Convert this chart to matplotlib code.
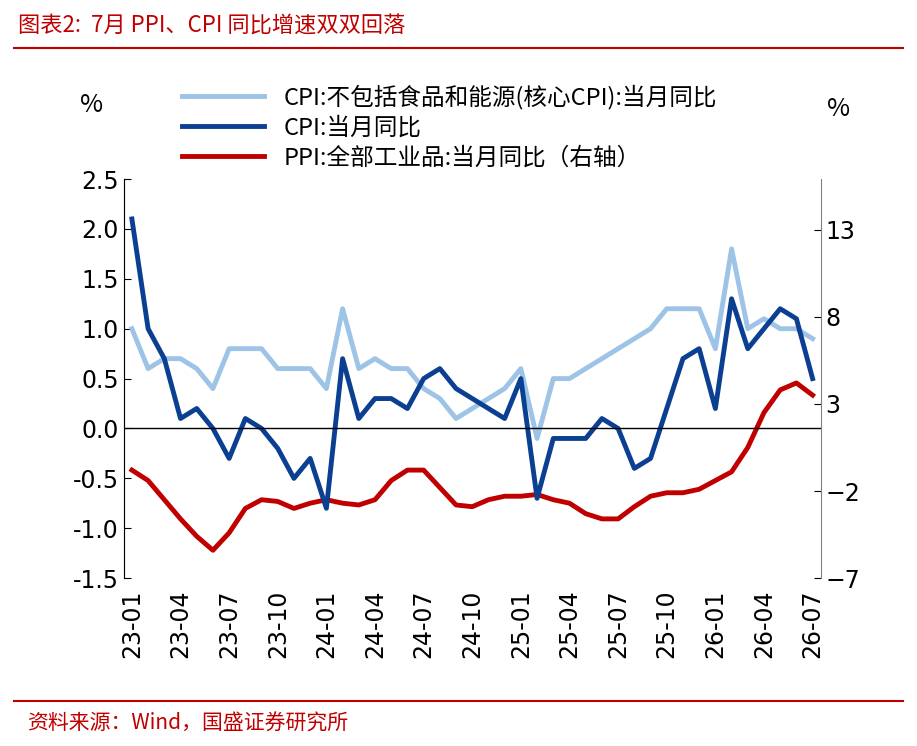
import matplotlib
matplotlib.use("Agg")
import matplotlib.pyplot as plt
import numpy as np

plt.rcParams['font.family'] = ['Noto Sans CJK SC', 'DejaVu Sans']

months = [f"{y}-{m:02d}" for y in (23, 24, 25, 26) for m in range(1, 13)][:43]
tick_labels = months[::3]
core_cpi = [1.0, 0.6, 0.7, 0.7, 0.6, 0.4, 0.8, 0.8, 0.8, 0.6, 0.6, 0.6,
            0.4, 1.2, 0.6, 0.7, 0.6, 0.6, 0.4, 0.3, 0.1, 0.2, 0.3, 0.4,
            0.6, -0.1, 0.5, 0.5, 0.6, 0.7, 0.8, 0.9, 1.0, 1.2, 1.2, 1.2,
            0.8, 1.8, 1.0, 1.1, 1.0, 1.0, 0.9]
cpi = [2.1, 1.0, 0.7, 0.1, 0.2, 0.0, -0.3, 0.1, 0.0, -0.2, -0.5, -0.3,
       -0.8, 0.7, 0.1, 0.3, 0.3, 0.2, 0.5, 0.6, 0.4, 0.3, 0.2, 0.1,
       0.5, -0.7, -0.1, -0.1, -0.1, 0.1, 0.0, -0.4, -0.3, 0.2, 0.7, 0.8,
       0.2, 1.3, 0.8, 1.0, 1.2, 1.1, 0.5]
ppi = [-0.8, -1.4, -2.5, -3.6, -4.6, -5.4, -4.4, -3.0, -2.5, -2.6, -3.0, -2.7,
       -2.5, -2.7, -2.8, -2.5, -1.4, -0.8, -0.8, -1.8, -2.8, -2.9, -2.5, -2.3,
       -2.3, -2.2, -2.5, -2.7, -3.3, -3.6, -3.6, -2.9, -2.3, -2.1, -2.1, -1.9,
       -1.4, -0.9, 0.5, 2.5, 3.8, 4.2, 3.5]

x = np.arange(len(months))
fig = plt.figure(figsize=(9.17, 7.46), dpi=100)
ax = fig.add_axes([0.135, 0.225, 0.76, 0.535])
ax2 = ax.twinx()

l1, = ax.plot(x, core_cpi, color='#9DC3E6', lw=3.5)
l2, = ax.plot(x, cpi, color='#0B3F91', lw=3.5)
l3, = ax2.plot(x, ppi, color='#C00000', lw=3.5)
ax.set_zorder(ax2.get_zorder() + 1); ax.patch.set_visible(False)

ax.set_ylim(-1.5, 2.5); ax.set_yticks(np.arange(-1.5, 2.51, 0.5))
ax.set_yticklabels([f"{v:.1f}" for v in np.arange(-1.5, 2.51, 0.5)])
ax2.set_ylim(-7, 15.9); ax2.set_yticks([-7, -2, 3, 8, 13])
ax.set_xlim(-0.5, 42.5)
ax.set_xticks(x[::3]); ax.set_xticklabels(tick_labels, rotation=90)
ax.axhline(0, color='black', lw=1)
for a in (ax, ax2):
    a.spines['top'].set_visible(False)
    a.tick_params(labelsize=17, direction='in', length=5, colors='black')
    a.spines['bottom'].set_visible(False)
ax.spines['right'].set_visible(False)
ax2.spines['left'].set_color('#808080'); ax2.spines['right'].set_color('#808080')
ax.tick_params(axis='x', length=0, pad=8)
for lab in ax.get_yticklabels() + ax2.get_yticklabels() + ax.get_xticklabels():
    lab.set_fontfamily(['DejaVu Sans'])

fig.text(0.1, 0.85, '%', fontsize=18, ha='center')
fig.text(0.915, 0.845, '%', fontsize=18, ha='center')
fig.legend([l1, l2, l3], ['CPI:不包括食品和能源(核心CPI):当月同比', 'CPI:当月同比', 'PPI:全部工业品:当月同比（右轴）'],
           loc='upper left', bbox_to_anchor=(0.175, 0.915), frameon=False, fontsize=17,
           handlelength=3.5, labelspacing=0.3)

fig.text(0.02, 0.965, '图表2:  7月 PPI、CPI 同比增速双双回落', color='#C00000', fontsize=16, style='italic', va='center')
fig.add_artist(plt.Line2D([0.015, 0.985], [0.935, 0.935], color='#C00000', lw=1.5))
fig.add_artist(plt.Line2D([0.015, 0.985], [0.06, 0.06], color='#C00000', lw=1.5))
fig.text(0.03, 0.03, '资料来源：Wind，国盛证券研究所', color='#C00000', fontsize=15, style='italic', va='center')

fig.savefig('out.png', dpi=100)
